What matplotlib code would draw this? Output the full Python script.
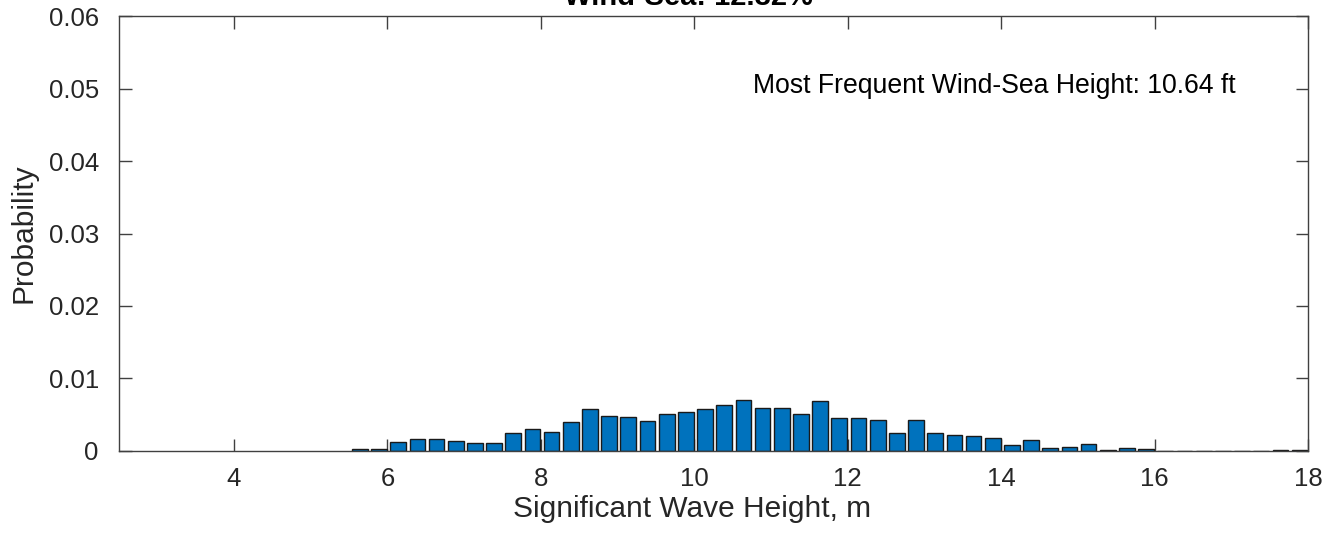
import matplotlib
matplotlib.use("Agg")
import matplotlib.pyplot as plt
import numpy as np

plt.rcParams['font.family'] = ['Liberation Sans', 'DejaVu Sans']

# histogram of wind-sea wave height (bin width 0.25, first bin centred at 5.64)
first_center = 5.64
bin_width = 0.25
probability = [
    0.0002, 0.0002, 0.00115, 0.00166, 0.00166, 0.0013, 0.00106, 0.00106, 0.00245, 0.0030,
    0.0025, 0.00397, 0.00568, 0.00471, 0.00457, 0.00411, 0.00499, 0.00536, 0.00568, 0.00633,
    0.00702, 0.00591, 0.00582, 0.00499, 0.00679, 0.00443, 0.00443, 0.0042, 0.00245, 0.0042,
    0.00245, 0.00217, 0.00203, 0.0018, 0.0007, 0.00152, 0.00042, 0.00055, 0.00097, 0.00014,
    0.00042, 0.0002, 0.0, 0.0, 0.0, 0.0, 0.0, 0.0, 0.0001, 0.0001,
]
x_ticks = [4, 6, 8, 10, 12, 14, 16, 18]
y_ticks = [0, 0.01, 0.02, 0.03, 0.04, 0.05, 0.06]
y_ticklabels = ['0', '0.01', '0.02', '0.03', '0.04', '0.05', '0.06']
title_text = 'Wind-Sea: 12.32%'
note_text = 'Most Frequent Wind-Sea Height: 10.64 ft'

centers = first_center + bin_width * np.arange(len(probability))

fig = plt.figure(figsize=(13.35, 5.37), dpi=100)
ax = fig.add_axes([0.0891, 0.161, 0.8907, 0.8083])

ax.bar(centers, probability, width=bin_width * 0.82, color='#0072BD',
       edgecolor='#1a1a1a', linewidth=1.0, zorder=2)

ax.set_xlim(2.5, 18.0)
ax.set_ylim(0, 0.06)
ax.set_xticks(x_ticks)
ax.set_yticks(y_ticks)
ax.set_yticklabels(y_ticklabels)

axis_color = '#404040'
for s in ax.spines.values():
    s.set_color(axis_color)
    s.set_linewidth(1.0)
ax.tick_params(direction='in', length=9, width=1.0, color=axis_color,
               top=True, right=True, labelsize=18.5, labelcolor='#262626')
ax.tick_params(axis='x', pad=11.5)
ax.tick_params(axis='y', pad=14.5)

ax.set_xlabel('Significant Wave Height, m', fontsize=21.5, color='#262626', labelpad=3, x=0.482)
ax.set_ylabel('Probability', fontsize=21.5, color='#262626', labelpad=8)
ax.set_title(title_text, fontsize=21, fontweight='bold', color='black', x=0.479, pad=8)

ax.text(10.76, 0.0504, note_text, fontsize=19.2, color='black', va='center', ha='left')

fig.savefig('out.png', dpi=100)
